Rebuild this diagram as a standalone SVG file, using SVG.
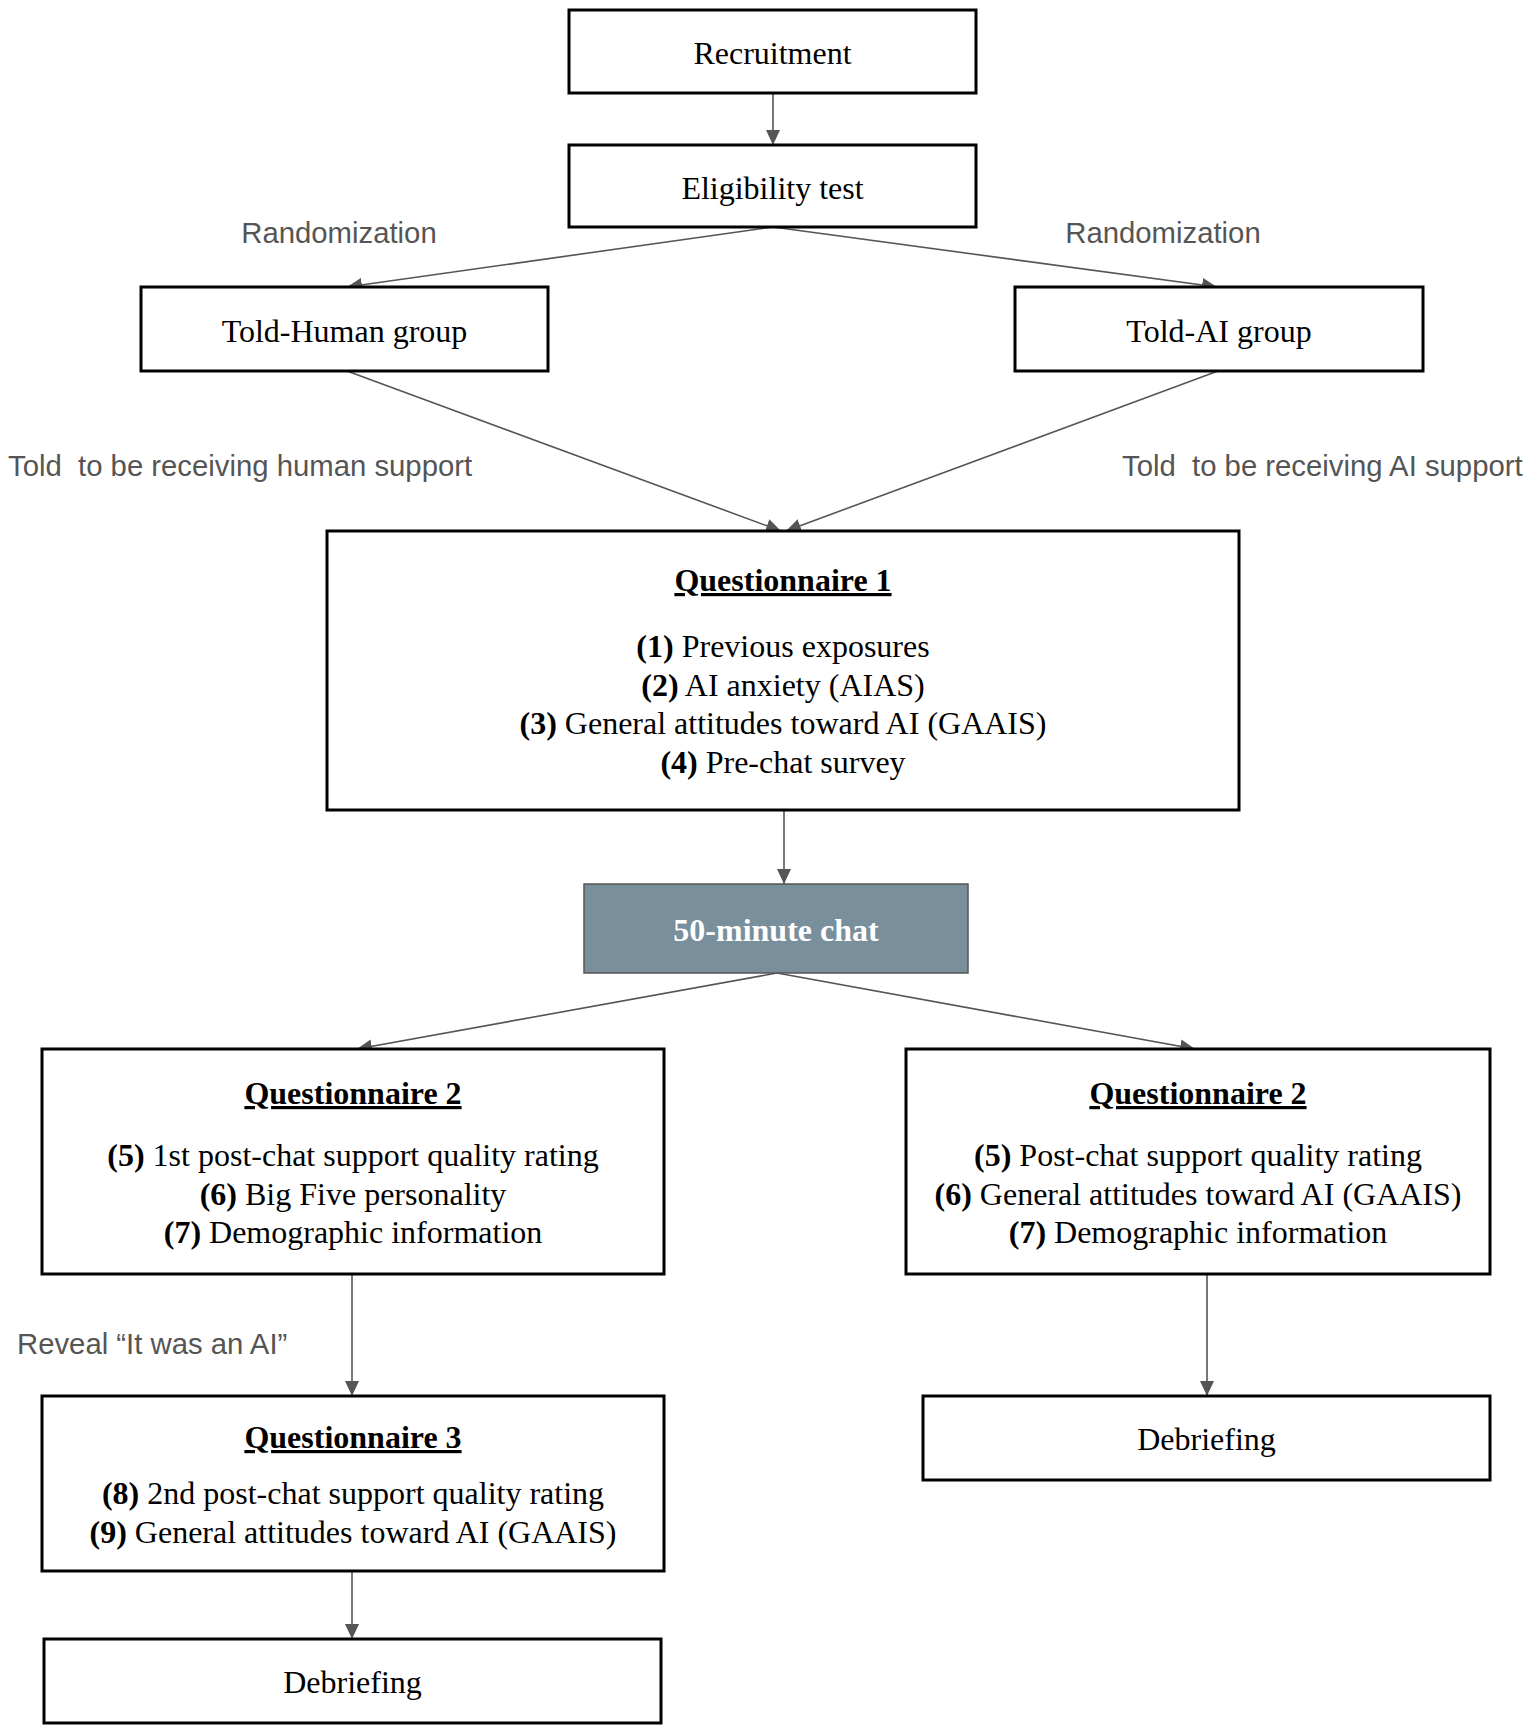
<svg xmlns="http://www.w3.org/2000/svg" width="1535" height="1733" viewBox="0 0 1535 1733">
<style>
.box{fill:#fff;stroke:#000;stroke-width:3}
.chat{fill:#798f9b;stroke:#555;stroke-width:1.5}
.t{font-family:"Liberation Serif","Times New Roman",serif;font-size:32px;fill:#000;text-anchor:middle}
.h{font-weight:bold;text-decoration:underline}
.b{font-weight:bold}
.w{fill:#fff;font-weight:bold}
.lbl{font-family:"Liberation Sans",Arial,sans-serif;font-size:29.3px;fill:#555}
.c{fill:none;stroke:#555;stroke-width:1.6}
</style>
<defs>
<marker id="ah" markerUnits="userSpaceOnUse" markerWidth="16" markerHeight="14" refX="15" refY="7" orient="auto">
<path d="M0,0 L15,7 L0,14 Z" fill="#555"/>
</marker>
</defs>
<rect width="1535" height="1733" fill="#fff"/>
<g id="connectors">
<line class="c" x1="773" y1="93" x2="773" y2="145" marker-end="url(#ah)"/>
<line class="c" x1="773" y1="227" x2="347" y2="287" marker-end="url(#ah)"/>
<line class="c" x1="773" y1="227" x2="1217" y2="287" marker-end="url(#ah)"/>
<line class="c" x1="347" y1="371" x2="781" y2="531" marker-end="url(#ah)"/>
<line class="c" x1="1218" y1="371" x2="786" y2="531" marker-end="url(#ah)"/>
<line class="c" x1="784" y1="810" x2="784" y2="884" marker-end="url(#ah)"/>
<line class="c" x1="777" y1="973" x2="357" y2="1049" marker-end="url(#ah)"/>
<line class="c" x1="777" y1="973" x2="1195" y2="1049" marker-end="url(#ah)"/>
<line class="c" x1="352" y1="1274" x2="352" y2="1396" marker-end="url(#ah)"/>
<line class="c" x1="1207" y1="1274" x2="1207" y2="1396" marker-end="url(#ah)"/>
<line class="c" x1="352" y1="1571" x2="352" y2="1639" marker-end="url(#ah)"/>
</g>
<g id="labels">
<text class="lbl" x="339" y="243" text-anchor="middle">Randomization</text>
<text class="lbl" x="1163" y="243" text-anchor="middle">Randomization</text>
<text class="lbl" x="8" y="476" xml:space="preserve">Told  to be receiving human support</text>
<text class="lbl" x="1122" y="476" xml:space="preserve">Told  to be receiving AI support</text>
<text class="lbl" x="17" y="1354">Reveal “It was an AI”</text>
</g>
<g id="recruitment">
<rect class="box" x="569" y="10" width="407" height="83"/>
<text class="t" x="772.5" y="64">Recruitment</text>
</g>
<g id="eligibility">
<rect class="box" x="569" y="145" width="407" height="82"/>
<text class="t" x="772.5" y="199">Eligibility test</text>
</g>
<g id="told-human">
<rect class="box" x="141" y="287" width="407" height="84"/>
<text class="t" x="344.5" y="342">Told-Human group</text>
</g>
<g id="told-ai">
<rect class="box" x="1015" y="287" width="408" height="84"/>
<text class="t" x="1219" y="342">Told-AI group</text>
</g>
<g id="questionnaire1">
<rect class="box" x="327" y="531" width="912" height="279"/>
<text class="t h" x="783" y="591">Questionnaire 1</text>
<text class="t" x="783" y="657"><tspan class="b">(1)</tspan> Previous exposures</text>
<text class="t" x="783" y="695.5"><tspan class="b">(2)</tspan> AI anxiety (AIAS)</text>
<text class="t" x="783" y="734"><tspan class="b">(3)</tspan> General attitudes toward AI (GAAIS)</text>
<text class="t" x="783" y="772.5"><tspan class="b">(4)</tspan> Pre-chat survey</text>
</g>
<g id="chat">
<rect class="chat" x="584" y="884" width="384" height="89"/>
<text class="t w" x="776" y="941">50-minute chat</text>
</g>
<g id="questionnaire2-human">
<rect class="box" x="42" y="1049" width="622" height="225"/>
<text class="t h" x="353" y="1104">Questionnaire 2</text>
<text class="t" x="353" y="1166"><tspan class="b">(5)</tspan> 1st post-chat support quality rating</text>
<text class="t" x="353" y="1205"><tspan class="b">(6)</tspan> Big Five personality</text>
<text class="t" x="353" y="1243"><tspan class="b">(7)</tspan> Demographic information</text>
</g>
<g id="questionnaire2-ai">
<rect class="box" x="906" y="1049" width="584" height="225"/>
<text class="t h" x="1198" y="1104">Questionnaire 2</text>
<text class="t" x="1198" y="1166"><tspan class="b">(5)</tspan> Post-chat support quality rating</text>
<text class="t" x="1198" y="1205"><tspan class="b">(6)</tspan> General attitudes toward AI (GAAIS)</text>
<text class="t" x="1198" y="1243"><tspan class="b">(7)</tspan> Demographic information</text>
</g>
<g id="questionnaire3">
<rect class="box" x="42" y="1396" width="622" height="175"/>
<text class="t h" x="353" y="1448">Questionnaire 3</text>
<text class="t" x="353" y="1504"><tspan class="b">(8)</tspan> 2nd post-chat support quality rating</text>
<text class="t" x="353" y="1543"><tspan class="b">(9)</tspan> General attitudes toward AI (GAAIS)</text>
</g>
<g id="debriefing-ai">
<rect class="box" x="923" y="1396" width="567" height="84"/>
<text class="t" x="1206.5" y="1450">Debriefing</text>
</g>
<g id="debriefing-human">
<rect class="box" x="44" y="1639" width="617" height="84"/>
<text class="t" x="352.5" y="1693">Debriefing</text>
</g>
</svg>
